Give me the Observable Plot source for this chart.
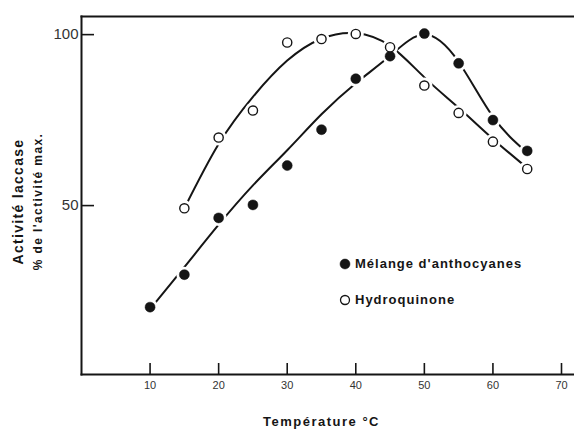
<!DOCTYPE html>
<html>
<head>
<meta charset="utf-8">
<script src="https://cdn.jsdelivr.net/npm/d3@7"></script>
<script src="https://cdn.jsdelivr.net/npm/@observablehq/plot@0.6"></script>
<style>
  html, body { margin: 0; padding: 0; background: #fff; }
  #wrap { position: relative; width: 574px; height: 429px; font-family: "Liberation Sans", Arial, sans-serif; color: #151515; }
  .leg { position: absolute; display: flex; align-items: center; font-weight: bold; font-size: 13px; letter-spacing: 1px; white-space: nowrap; }
  .leg svg { margin-right: 4px; }
</style>
</head>
<body>
<div id="wrap"></div>
<script>
// Measured points
const temps = [10, 15, 20, 25, 30, 35, 40, 45, 50, 55, 60, 65];
const melange = [20.3, 29.8, 46.4, 50.2, 61.7, 72.2, 87.1, 93.7, 100.3, 91.6, 75.0, 66.0];
const hydroTemps = [15, 20, 25, 30, 35, 40, 45, 50, 55, 60, 65];
const hydro = [49.2, 69.9, 77.8, 97.7, 98.7, 100.2, 96.3, 85.1, 77.1, 68.7, 60.7];
// Hand-drawn fitted curves
const melFitT = [10, 15, 20, 25, 30, 35, 40, 45, 50, 55, 60, 65];
const melFitV = [19.7, 32.0, 44.4, 55.9, 66.2, 76.7, 85.8, 93.8, 100.0, 92.0, 76.0, 65.5];
const hydFitT = [15, 20, 25, 30, 35, 40, 45, 50, 55, 60, 65];
const hydFitV = [49.2, 68.0, 81.8, 92.4, 98.8, 100.4, 96.7, 87.5, 78.6, 69.5, 61.0];
const xTicks = [10, 20, 30, 40, 50, 60, 70];
const yTicks = [50, 100];
const seriesNames = ["Mélange d'anthocyanes", "Hydroquinone"];

const melPts = temps.map((t, i) => ({t, v: melange[i]}));
const hydPts = hydroTemps.map((t, i) => ({t, v: hydro[i]}));
const melFit = melFitT.map((t, i) => ({t, v: melFitV[i]}));
const hydFit = hydFitT.map((t, i) => ({t, v: hydFitV[i]}));

const ink = "#151515";
const W = 574, H = 429;
const mL = 81, mR = 1, mT = 16, mB = 55;
const frameW = W - mL - mR, frameH = H - mT - mB;

const chart = Plot.plot({
  width: W,
  height: H,
  marginLeft: mL,
  marginRight: mR,
  marginTop: mT,
  marginBottom: mB,
  style: {fontFamily: "'Liberation Sans', Arial, sans-serif", color: ink, background: "white"},
  x: {domain: [0, 71.75], range: [mL, W - mR]},
  y: {domain: [0.6, 105.3]},
  marks: [
    Plot.frame({anchor: "left", stroke: ink, strokeWidth: 2}),
    Plot.frame({anchor: "top", stroke: ink, strokeWidth: 2}),
    Plot.frame({anchor: "bottom", stroke: ink, strokeWidth: 2}),
    Plot.ruleX(xTicks, {x: d => d, insetTop: frameH - 11, stroke: ink, strokeWidth: 1.6}),
    Plot.ruleY(yTicks, {y: d => d, insetRight: frameW - 13, stroke: ink, strokeWidth: 1.6}),
    Plot.axisX({ticks: xTicks, tickSize: 0, tickPadding: 7, fontSize: 11, fill: "#333", label: null}),
    Plot.axisY({ticks: yTicks, tickSize: 0, tickPadding: 3, fontSize: 15, fill: "#333", label: null}),
    Plot.line(melFit, {x: "t", y: "v", curve: "natural", stroke: ink, strokeWidth: 2}),
    Plot.line(hydFit, {x: "t", y: "v", curve: "natural", stroke: ink, strokeWidth: 2}),
    Plot.dot(melPts, {x: "t", y: "v", r: 8, fill: "white"}),
    Plot.dot(hydPts, {x: "t", y: "v", r: 8, fill: "white"}),
    Plot.dot(melPts, {x: "t", y: "v", r: 5, fill: ink, stroke: ink, strokeWidth: 0.5}),
    Plot.dot(hydPts, {x: "t", y: "v", r: 4.6, fill: "white", stroke: ink, strokeWidth: 1.4}),
    Plot.text(["Activité laccase"], {frameAnchor: "left", dx: -63, dy: 6, rotate: -90, fontSize: 14, fontWeight: "bold", fill: ink, textAnchor: "middle", lineAnchor: "middle", style: "letter-spacing:1px"}),
    Plot.text(["% de l'activité max."], {frameAnchor: "left", dx: -43, dy: 6, rotate: -90, fontSize: 12, fontWeight: "bold", fill: ink, textAnchor: "middle", lineAnchor: "middle"}),
    Plot.text(["Température °C"], {frameAnchor: "bottom", dy: 47, fontSize: 13, fontWeight: "bold", fill: ink, textAnchor: "middle", lineAnchor: "middle", x: () => 35})
  ]
});

const wrap = document.getElementById("wrap");
wrap.appendChild(chart);

// letter spacing on the axis titles
chart.querySelectorAll("text").forEach(t => {
  const s = t.textContent;
  if (s === "Activité laccase") t.setAttribute("letter-spacing", "1.3");
  if (s === "% de l'activité max.") t.setAttribute("letter-spacing", "1.4");
  if (s === "Température °C") t.setAttribute("letter-spacing", "1.5");
});

// Legend
const legendItems = [
  {name: seriesNames[0], filled: true, left: 339, top: 256},
  {name: seriesNames[1], filled: false, left: 339, top: 292}
];
for (const it of legendItems) {
  const div = document.createElement("div");
  div.className = "leg";
  div.style.left = it.left + "px";
  div.style.top = it.top + "px";
  div.innerHTML = `<svg width="12" height="12" viewBox="0 0 12 12"><circle cx="6" cy="6" r="${it.filled ? 5 : 4.5}" fill="${it.filled ? ink : "white"}" stroke="${ink}" stroke-width="${it.filled ? 0.5 : 1.3}"/></svg><span>${it.name}</span>`;
  wrap.appendChild(div);
}
</script>
</body>
</html>
